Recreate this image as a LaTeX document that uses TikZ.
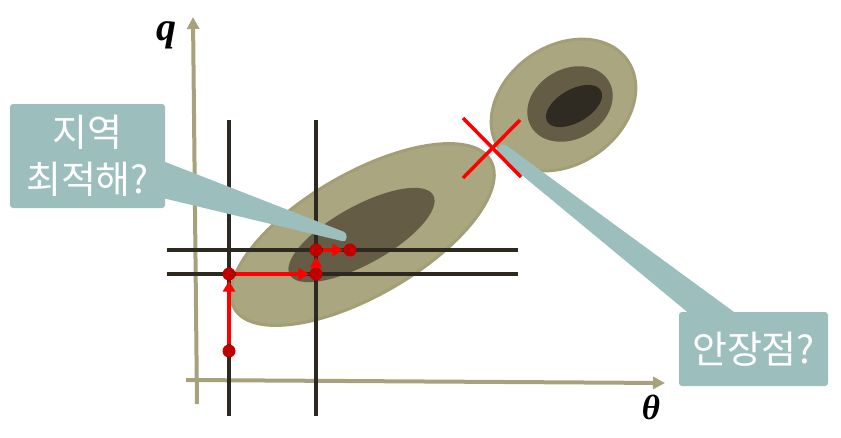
\documentclass[tikz,border=0pt]{standalone}
\usepackage{fontspec}
\newfontfamily\kr{Noto Sans CJK KR}
\newfontfamily\tnr{Liberation Serif}
\usetikzlibrary{arrows.meta}
\definecolor{axisc}{HTML}{A8A27C}
\definecolor{ell1}{HTML}{AAA67F}
\definecolor{ell1rim}{HTML}{A29E76}
\definecolor{ell2}{HTML}{655C46}
\definecolor{ell3}{HTML}{2F2B22}
\definecolor{gridc}{HTML}{2D2820}
\definecolor{dotc}{HTML}{C00000}
\definecolor{callc}{HTML}{9CBFBE}
\tikzset{
  axisline/.style={axisc, line width=4pt, -{Triangle[length=12pt,width=12pt]}},
  gridline/.style={gridc, line width=4pt},
  dotn/.style={circle, fill=dotc, inner sep=0pt, minimum size=13pt},
  redarrow/.style={red, line width=3.6pt, -{Triangle[length=11pt,width=12pt]}},
  callbox/.style={fill=callc, rounded corners=3pt, text=white, inner sep=0pt, align=center, font=\kr\fontsize{38}{47}\selectfont},
  crossline/.style={red, line width=3.5pt},
}
\begin{document}
\begin{tikzpicture}[x=1pt,y=-1pt]
\useasboundingbox (0,0) rectangle (841,437);
% axes
\coordinate (qb) at (197,404);
\coordinate (qt) at (193,17);
\coordinate (tb) at (186,380);
\coordinate (tt) at (665,383);
\draw[axisline] (qb) -- (qt);
\draw[axisline] (tb) -- (tt);
\node (ql) at (166,35) {\tnr\bfseries\itshape\fontsize{40}{42}\selectfont q};
\node (tl) at (651,407) {\tnr\bfseries\itshape\fontsize{35}{36}\selectfont θ};
% big ellipse
\filldraw[fill=ell1, draw=ell1rim, line width=3pt, shift={(362.5,234.5)}, rotate=30] (0,0) ellipse [x radius=148, y radius=61];
\fill[ell2, shift={(361.5,235)}, rotate=29] (0,0) ellipse [x radius=82, y radius=29];
% small ellipses
\filldraw[fill=ell1, draw=ell1rim, line width=3pt, shift={(563.5,105)}, rotate=35] (0,0) ellipse [x radius=78, y radius=59];
\fill[ell2, shift={(570,104)}, rotate=30] (0,0) ellipse [x radius=45, y radius=35];
\fill[ell3, shift={(574,106)}, rotate=30] (0,0) ellipse [x radius=31, y radius=16.5];
% grid lines
\coordinate (v1t) at (229,120); \coordinate (v1b) at (229,416);
\coordinate (v2t) at (316,120); \coordinate (v2b) at (316,416);
\coordinate (h1l) at (167,250); \coordinate (h1r) at (518,250);
\coordinate (h2l) at (167,274); \coordinate (h2r) at (518,274);
\draw[gridline] (v1t) -- (v1b);
\draw[gridline] (v2t) -- (v2b);
\draw[gridline] (h1l) -- (h1r);
\draw[gridline] (h2l) -- (h2r);
% red path
\node[dotn] (d1) at (229,351) {};
\node[dotn] (d2) at (229,274) {};
\node[dotn] (d3) at (316,274) {};
\node[dotn] (d4) at (316,250) {};
\node[dotn] (d5) at (350,250) {};
\draw[redarrow] (d1) -- (d2);
\draw[redarrow] (d2) -- (d3);
\draw[redarrow] (d3) -- (d4);
\draw[redarrow] (d4) -- (d5);
% callout 1
\fill[callc, rounded corners=3.5pt] (150,156) -- (347,233) -- (346,242) -- (150,195) -- cycle;
\node[callbox, minimum width=155pt, minimum height=104pt] (c1) at (87.5,156) {지역\\최적해?};
% callout 2
\fill[callc, rounded corners=3.5pt] (494,152) -- (503,143) -- (745,320) -- (697,320) -- cycle;
\node[callbox, minimum width=149pt, minimum height=74pt] (c2) at (753.5,349) {안장점?};
% red cross
\coordinate (xa) at (463,118); \coordinate (xb) at (521,177);
\coordinate (xc) at (463,178); \coordinate (xd) at (520,120);
\draw[crossline] (xa) -- (xb);
\draw[crossline] (xc) -- (xd);
\end{tikzpicture}
\end{document}
